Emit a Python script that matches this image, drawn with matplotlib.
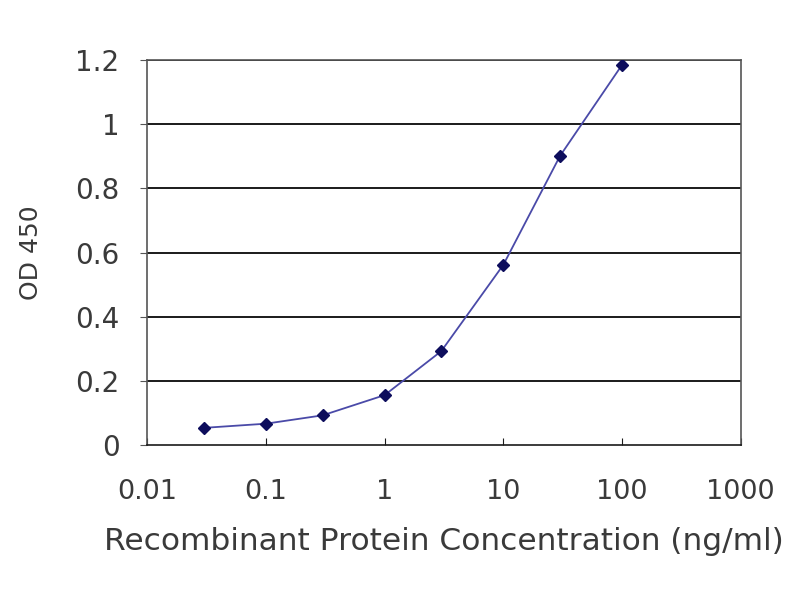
import matplotlib
matplotlib.use("Agg")
import matplotlib.pyplot as plt
from matplotlib.ticker import FixedLocator, FixedFormatter, NullLocator

# ELISA standard curve
conc = [0.03, 0.1, 0.3, 1, 3, 10, 30, 100]
od450 = [0.054, 0.067, 0.093, 0.156, 0.293, 0.562, 0.901, 1.185]

x_ticks = [0.01, 0.1, 1, 10, 100, 1000]
x_labels = ["0.01", "0.1", "1", "10", "100", "1000"]
y_ticks = [0, 0.2, 0.4, 0.6, 0.8, 1.0, 1.2]
y_labels = ["0", "0.2", "0.4", "0.6", "0.8", "1", "1.2"]

# DejaVu is a bit wider than Arial, closer to the stretched look of the original
plt.rcParams["font.family"] = ["DejaVu Sans"]
text_col = "#3a3a3a"

fig = plt.figure(figsize=(8, 6), dpi=100)
ax = fig.add_axes([0.184, 0.258, 0.742, 0.642])

for y in y_ticks[1:]:
    ax.axhline(y, color="#1a1a1a", lw=1.4, zorder=1)

ax.plot(conc, od450, color="#4a4aa8", lw=1.3, zorder=2)
ax.plot(conc, od450, ls="none", marker="D", ms=6.5, color="#0d0d5c", zorder=3)

ax.set_xscale("log")
ax.set_xlim(0.01, 1000)
ax.set_ylim(0, 1.2)
ax.xaxis.set_major_locator(FixedLocator(x_ticks))
ax.xaxis.set_major_formatter(FixedFormatter(x_labels))
ax.xaxis.set_minor_locator(NullLocator())
ax.yaxis.set_major_locator(FixedLocator(y_ticks))
ax.yaxis.set_major_formatter(FixedFormatter(y_labels))

for s in ax.spines.values():
    s.set_color("#555555")
    s.set_linewidth(1.2)
ax.spines["bottom"].set_color("#1a1a1a")

ax.tick_params(axis="x", direction="in", length=5, pad=24, labelsize=19.5,
               colors="#1a1a1a", labelcolor=text_col)
ax.tick_params(axis="y", direction="out", length=5, pad=15, labelsize=20,
               colors="#555555", labelcolor=text_col)

ax.set_xlabel("Recombinant Protein Concentration (ng/ml)", fontsize=22.5,
              color=text_col, labelpad=16)
ax.set_ylabel("OD 450", fontsize=18, color=text_col, labelpad=23)

fig.savefig("out.png", dpi=100)
